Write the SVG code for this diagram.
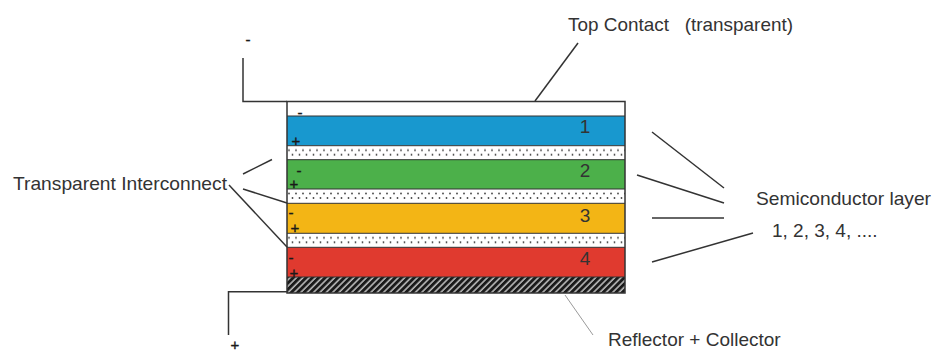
<svg xmlns="http://www.w3.org/2000/svg" width="933" height="351" viewBox="0 0 933 351">
  <style>
    .lbl { font-family: "Liberation Sans", Arial, sans-serif; font-size: 19px; fill: #333333; }
    .num { font-family: "Liberation Sans", Arial, sans-serif; font-size: 19px; fill: #333333; text-anchor: middle; }
    .sign { font-family: "Liberation Sans", Arial, sans-serif; font-size: 15px; fill: #1a1a1a; text-anchor: middle; stroke: #1a1a1a; stroke-width: 0.4; }
    .lead { stroke: #333333; stroke-width: 1.5; fill: none; }
    .wire { stroke: #333333; stroke-width: 1.5; fill: none; }
    .sep { stroke: #333333; stroke-width: 1; }
  </style>
  <defs>
    <pattern id="dots" patternUnits="userSpaceOnUse" width="7" height="14">
      <rect width="7" height="14" fill="#ffffff"/>
      <circle cx="2" cy="4.5" r="0.9" fill="#444444"/>
      <circle cx="5.5" cy="9" r="0.9" fill="#444444"/>
    </pattern>
    <pattern id="hatch" patternUnits="userSpaceOnUse" width="4.5" height="4.5" patternTransform="rotate(45)">
      <rect width="4.5" height="4.5" fill="#1a1a1a"/>
      <line x1="1" y1="0" x2="1" y2="4.5" stroke="#dddddd" stroke-width="1.3"/>
    </pattern>
  </defs>
  <rect width="933" height="351" fill="#ffffff"/>

  <g id="stack">
    <g id="top-contact"><rect x="287" y="101.5" width="338" height="14.5" fill="#ffffff"/></g>
    <g id="layer1"><rect x="287" y="116" width="338" height="29.7" fill="#1898cf"/></g>
    <g id="interconnect1" transform="translate(0,145.7)"><rect x="287" y="0" width="338" height="14" fill="url(#dots)"/></g>
    <g id="layer2"><rect x="287" y="159.7" width="338" height="29.3" fill="#4cb04a"/></g>
    <g id="interconnect2" transform="translate(0,189)"><rect x="287" y="0" width="338" height="14.3" fill="url(#dots)"/></g>
    <g id="layer3"><rect x="287" y="203.3" width="338" height="30" fill="#f3b515"/></g>
    <g id="interconnect3" transform="translate(0,233.3)"><rect x="287" y="0" width="338" height="14" fill="url(#dots)"/></g>
    <g id="layer4"><rect x="287" y="247.3" width="338" height="29.7" fill="#e03a2f"/></g>
    <g id="reflector"><rect x="287" y="277" width="338" height="16" fill="url(#hatch)"/></g>
    <g id="separators">
      <line class="sep" x1="287" y1="116" x2="625" y2="116"/>
      <line class="sep" x1="287" y1="145.7" x2="625" y2="145.7"/>
      <line class="sep" x1="287" y1="159.7" x2="625" y2="159.7"/>
      <line class="sep" x1="287" y1="189" x2="625" y2="189"/>
      <line class="sep" x1="287" y1="203.3" x2="625" y2="203.3"/>
      <line class="sep" x1="287" y1="233.3" x2="625" y2="233.3"/>
      <line class="sep" x1="287" y1="247.3" x2="625" y2="247.3"/>
      <line class="sep" x1="287" y1="277" x2="625" y2="277"/>
    </g>
    <rect x="287" y="101.5" width="338" height="191.5" fill="none" stroke="#333333" stroke-width="1.5"/>
    <g id="signs">
      <text class="sign" x="300" y="118">-</text>
      <text class="sign" x="296" y="145.5">+</text>
      <text class="sign" x="299" y="175.5">-</text>
      <text class="sign" x="294" y="188.5">+</text>
      <text class="sign" x="291" y="217.5">-</text>
      <text class="sign" x="295" y="232.5">+</text>
      <text class="sign" x="291" y="262.5">-</text>
      <text class="sign" x="294" y="277.5">+</text>
    </g>
    <g id="numbers">
      <text class="num" x="585" y="133">1</text>
      <text class="num" x="585" y="177">2</text>
      <text class="num" x="585" y="222">3</text>
      <text class="num" x="585" y="265">4</text>
    </g>
  </g>

  <g id="terminals">
    <polyline class="wire" points="243,58 243,101.5 287,101.5"/>
    <polyline class="wire" points="287,291.7 228.5,291.7 228.5,335"/>
    <text class="sign" x="248" y="45">-</text>
    <text class="sign" x="235" y="349.5">+</text>
  </g>

  <g id="connectors">
    <line class="lead" x1="578" y1="43" x2="535" y2="101"/>
    <line class="lead" x1="243" y1="174" x2="272" y2="159.5"/>
    <line class="lead" x1="243" y1="189" x2="287" y2="203"/>
    <line class="lead" x1="229" y1="185" x2="287" y2="247"/>
    <line class="lead" x1="652" y1="132" x2="724" y2="188"/>
    <line class="lead" x1="637" y1="175" x2="724" y2="203"/>
    <line class="lead" x1="652" y1="218" x2="724" y2="218"/>
    <line class="lead" x1="652" y1="262" x2="753" y2="233"/>
    <line x1="565" y1="295" x2="593" y2="335" stroke="#9a9a9a" stroke-width="1"/>
  </g>

  <g id="labels">
    <text class="lbl" x="568" y="31" textLength="225" lengthAdjust="spacingAndGlyphs" xml:space="preserve">Top Contact   (transparent)</text>
    <text class="lbl" x="13" y="190" textLength="214" lengthAdjust="spacingAndGlyphs">Transparent Interconnect</text>
    <text class="lbl" x="756" y="205" textLength="175" lengthAdjust="spacingAndGlyphs">Semiconductor layer</text>
    <text class="lbl" x="772" y="237">1, 2, 3, 4, ....</text>
    <text class="lbl" x="608" y="346">Reflector + Collector</text>
  </g>
</svg>
